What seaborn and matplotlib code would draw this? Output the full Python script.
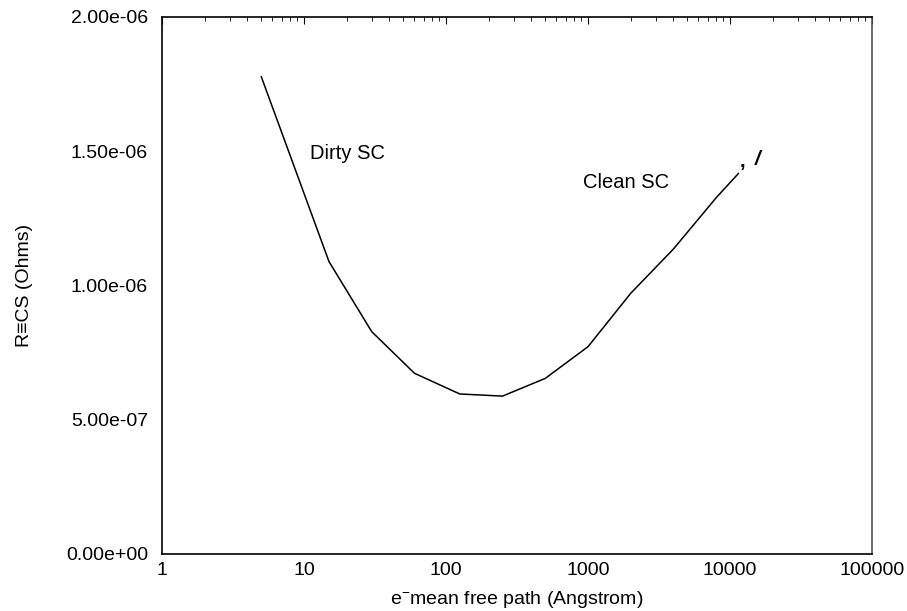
import numpy as np
import pandas as pd
import matplotlib
matplotlib.use("Agg")
import matplotlib.pyplot as plt
import seaborn as sns

# ---------------------------------------------------
# data
# ---------------------------------------------------
mfp = [5, 15, 30, 60, 125, 250, 500, 1000, 2000, 4000, 8000, 11500]
r_bcs = [1.778e-6, 1.089e-6, 0.828e-6, 0.673e-6, 0.596e-6, 0.588e-6,
         0.654e-6, 0.772e-6, 0.971e-6, 1.136e-6, 1.327e-6, 1.418e-6]

x_ticks = [1, 10, 100, 1000, 10000, 100000]
y_ticks = [0.0, 5e-7, 1e-6, 1.5e-6, 2e-6]

df = pd.DataFrame({"mfp": mfp, "R": r_bcs})

sns.set_style("white")
plt.rcParams["font.family"] = ["Liberation Sans", "DejaVu Sans"]
plt.rcParams["mathtext.default"] = "regular"
plt.rcParams["text.color"] = "black"
plt.rcParams["axes.labelcolor"] = "black"
plt.rcParams["xtick.color"] = "black"
plt.rcParams["ytick.color"] = "black"

fig = plt.figure(figsize=(9.07, 6.11), dpi=100)
ax = fig.add_axes([0.1786, 0.0933, 0.9614 - 0.1786, 0.9722 - 0.0933])

sns.lineplot(data=df, x="mfp", y="R", ax=ax, color="black",
             linewidth=1.1, estimator=None, sort=False)

ax.set_xscale("log")
ax.set_xlim(1, 100000)
ax.set_ylim(0, 2e-6)
ax.set_xticks(x_ticks)
ax.set_xticklabels([str(v) for v in x_ticks])
ax.set_yticks(y_ticks)
ax.set_yticklabels(["%.2e" % v for v in y_ticks])

ax.tick_params(axis="x", which="major", direction="in", length=5, width=0.8,
               top=True, labelsize=14, pad=6)
ax.tick_params(axis="x", which="minor", direction="in", length=3, width=0.6,
               top=True)
ax.tick_params(axis="y", direction="in", length=2, width=0.6,
               labelsize=14, pad=10)

for side in ["left", "bottom", "top"]:
    ax.spines[side].set_color("black")
    ax.spines[side].set_linewidth(1.2)
ax.spines["right"].set_color("#555555")
ax.spines["right"].set_linewidth(1.2)

ax.set_xlabel("e$^{-}$mean free path (Angstrom)", fontsize=14, labelpad=7)
ax.set_ylabel("R\u2261CS (Ohms)", fontsize=14, labelpad=24)

ax.text(11, 1.493e-6, "Dirty SC", fontsize=14.5, va="center", ha="left")
ax.text(922, 1.384e-6, "Clean SC", fontsize=14.5, va="center", ha="left")
ax.text(11750, 1.44e-6, ",", fontsize=14.5, va="baseline", ha="left",
        fontweight="bold")
ax.text(15000, 1.45e-6, "/", fontsize=14.5, va="baseline", ha="left",
        fontweight="bold", style="italic")

fig.savefig("out.png", dpi=100)
